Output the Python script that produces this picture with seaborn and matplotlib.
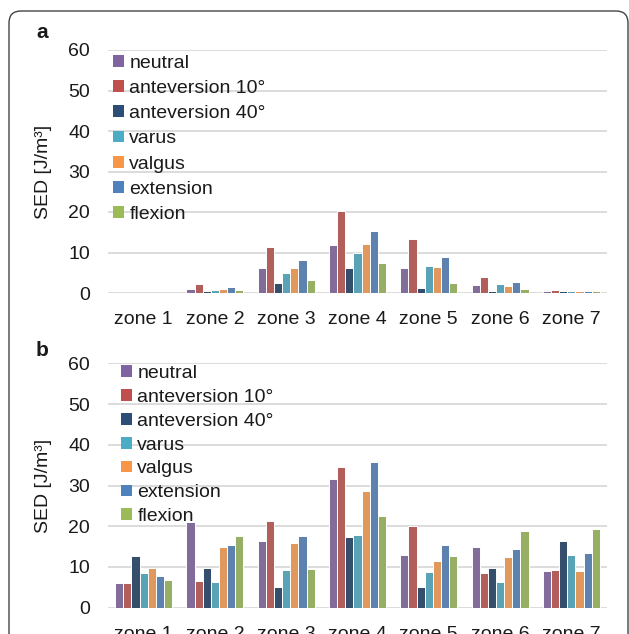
import numpy as np
import pandas as pd
import seaborn as sns
import matplotlib.pyplot as plt
from matplotlib.patches import FancyBboxPatch, Patch

# Categories
zones = ["zone 1", "zone 2", "zone 3", "zone 4", "zone 5", "zone 6", "zone 7"]
conditions = ["neutral", "anteversion 10°", "anteversion 40°", "varus",
              "valgus", "extension", "flexion"]
colors = ["#8064A2", "#C0504D", "#2C4D75", "#4BACC6", "#F79646", "#4F81BD", "#9BBB59"]

# Panel a: SED per zone, one list per loading condition
a_neutral = [0.0, 1.0, 6.1, 11.9, 6.1, 2.0, 0.5]
a_antev10 = [0.0, 2.2, 11.4, 20.3, 13.3, 4.0, 0.7]
a_antev40 = [0.0, 0.5, 2.5, 6.1, 1.2, 0.5, 0.4]
a_varus = [0.0, 0.8, 4.9, 10.0, 6.7, 2.1, 0.5]
a_valgus = [0.0, 0.9, 6.1, 12.2, 6.4, 1.7, 0.4]
a_extension = [0.0, 1.5, 8.1, 15.2, 8.9, 2.7, 0.6]
a_flexion = [0.0, 0.7, 3.1, 7.3, 2.4, 0.9, 0.4]

# Panel b
b_neutral = [6.0, 21.0, 16.4, 31.7, 12.9, 14.8, 8.9]
b_antev10 = [6.1, 6.5, 21.3, 34.6, 20.1, 8.5, 9.2]
b_antev40 = [12.7, 9.8, 5.0, 17.4, 5.0, 9.8, 16.4]
b_varus = [8.6, 6.2, 9.2, 17.9, 8.8, 6.3, 13.0]
b_valgus = [9.7, 15.0, 16.0, 28.7, 11.4, 12.5, 8.9]
b_extension = [7.8, 15.4, 17.7, 35.7, 15.4, 14.3, 13.5]
b_flexion = [6.9, 17.5, 9.5, 22.5, 12.7, 18.8, 19.3]

panel_a = [a_neutral, a_antev10, a_antev40, a_varus, a_valgus, a_extension, a_flexion]
panel_b = [b_neutral, b_antev10, b_antev40, b_varus, b_valgus, b_extension, b_flexion]


def long_table(series):
    rows = []
    for cond, vals in zip(conditions, series):
        for z, v in zip(zones, vals):
            rows.append({"zone": z, "condition": cond, "SED": v})
    return pd.DataFrame(rows)


sns.set_style("white")
plt.rcParams['font.family'] = ['Liberation Sans', 'DejaVu Sans']
text_col = "#1a1a1a"
fs = 14

fig = plt.figure(figsize=(6.29, 6.34), dpi=100)

# outer rounded frame
frame = FancyBboxPatch((0.09, -0.5), 6.19, 6.73, boxstyle="round,pad=0,rounding_size=0.12",
                       transform=fig.dpi_scale_trans, facecolor="none",
                       edgecolor="#444444", linewidth=1.0, clip_on=False)
fig.patches.append(frame)

W, H = 629, 634
panels = [
    ("a", panel_a, (108, 293, 607, 50), (0.0, 1.0), 0.42),
    ("b", panel_b, (108, 607.7, 607, 363.3), (0.016, 1.012), 0.35),
]
label_y = {"a": 32, "b": 351}

for tag, series, (l, b, r, t), anchor, spacing in panels:
    ax = fig.add_axes([l / W, 1 - b / H, (r - l) / W, (b - t) / H])
    df = long_table(series)
    sns.barplot(data=df, x="zone", y="SED", hue="condition", order=zones,
                hue_order=conditions, palette=colors, width=0.8,
                edgecolor="white", linewidth=0.7, legend=False, ax=ax)
    ax.set_ylim(0, 60)
    ax.set_yticks(np.arange(0, 61, 10))
    ax.yaxis.grid(True, color="#D9D9D9", linewidth=1.3)
    ax.set_axisbelow(True)
    for s in ax.spines.values():
        s.set_visible(False)
    ax.tick_params(axis="both", length=0, labelsize=fs, colors=text_col)
    ax.tick_params(axis="y", pad=13)
    ax.tick_params(axis="x", pad=13)
    ax.set_xlabel("")
    ax.set_ylabel("SED [J/m³]", fontsize=fs, color=text_col)
    ax.yaxis.set_label_coords(-0.112, 0.5)

    handles = [Patch(facecolor=c, edgecolor="none") for c in colors]
    ax.legend(handles, conditions, loc="upper left", bbox_to_anchor=anchor,
              frameon=False, fontsize=fs, handlelength=0.55, handleheight=0.55,
              handletextpad=0.3, labelspacing=spacing, borderaxespad=0,
              borderpad=0.25, labelcolor=text_col)

    fig.text(42 / W, 1 - label_y[tag] / H, tag, fontsize=15, fontweight="bold",
             ha="center", va="center", color=text_col)

fig.savefig("out.png", dpi=100)
